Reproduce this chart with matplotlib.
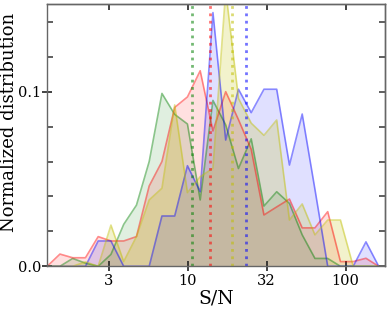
import numpy as np
import matplotlib
matplotlib.use('Agg')
import matplotlib.pyplot as plt
from matplotlib.ticker import FixedLocator, MultipleLocator, FixedFormatter

plt.rcParams['font.family'] = ['DejaVu Serif']

# bin centres of the S/N histogram (log-spaced)
log_sn = 0.111 + 0.0807 * np.arange(27)
sn = 10 ** log_sn

green = [0, 0, 0.0045, 0.0018, 0, 0.0068, 0.024, 0.035, 0.060, 0.099,
         0.087, 0.0815, 0.038, 0.095, 0.081, 0.056, 0.073, 0.0345, 0.0427, 0.036,
         0.018, 0.0045, 0.0045, 0, 0, 0, 0]
red = [0, 0.0070, 0.0049, 0.0049, 0.017, 0.0145, 0.0145, 0.017, 0.046, 0.060,
       0.091, 0.097, 0.112, 0.0775, 0.100, 0.084, 0.067, 0.0294, 0.034, 0.0385,
       0.022, 0.022, 0.0313, 0.0027, 0.0027, 0.0046, 0]
yellow = [0, 0, 0, 0.0025, 0, 0.0236, 0.0027, 0.017, 0.038, 0.0447,
          0.0924, 0.0422, 0.0513, 0.0561, 0.158, 0.0962, 0.082, 0.075, 0.0838, 0.0265,
          0.0357, 0.018, 0.0265, 0.0265, 0, 0, 0]
blue = [0, 0, 0, 0, 0.0145, 0.0145, 0, 0, 0, 0.0288,
        0.0288, 0.0576, 0.0427, 0.1453, 0.0723, 0.1014, 0.088, 0.1014, 0.1014, 0.058,
        0.0872, 0.044, 0, 0, 0, 0.014, 0]

# (values, colour, fill alpha)
series = [(green, 'g', 0.12), (red, 'r', 0.12), (blue, 'b', 0.12), (yellow, 'y', 0.2)]
medians = {'g': 10.7, 'r': 13.8, 'y': 19.1, 'b': 23.3}

xtick_pos = [10 ** 0.5, 10, 10 ** 1.5, 100]
xtick_labels = ['3', '10', '32', '100']

fig = plt.figure(figsize=(3.9, 3.12), dpi=100)
ax = fig.add_axes([0.121, 0.1465, 0.867, 0.8395])

for vals, c, a in series:
    ax.fill_between(sn, vals, color=c, alpha=a, lw=0)
for vals, c, a in series:
    ax.plot(sn, vals, color=c, alpha=0.45, lw=1.2)

for c in ['g', 'r', 'y', 'b']:
    ax.axvline(medians[c], color=c, ls=':', lw=2, alpha=0.55)

ax.set_xscale('log')
ax.set_xlim(10 ** 0.111, 10 ** 2.251)
ax.set_ylim(0, 0.15)

ax.xaxis.set_major_locator(FixedLocator(xtick_pos))
ax.xaxis.set_major_formatter(FixedFormatter(xtick_labels))
ax.xaxis.set_minor_locator(FixedLocator([]))
ax.yaxis.set_major_locator(MultipleLocator(0.1))
ax.yaxis.set_minor_locator(MultipleLocator(0.02))
ax.yaxis.set_major_formatter(plt.FuncFormatter(lambda v, p: '%.1f' % v))

ax.tick_params(which='major', direction='inout', length=7, width=1.2, labelsize=10.5, color='#222222')
ax.tick_params(which='minor', direction='in', length=4, width=1.2, color='#444444')
ax.tick_params(axis='y', which='major', pad=1)
ax.tick_params(axis='x', which='major', pad=2)

# ticks on top and right pointing inward
secx = ax.secondary_xaxis('top')
secx.set_xticks(xtick_pos)
secx.tick_params(direction='in', length=4, width=1.2, labeltop=False, color='#222222')
secx.xaxis.set_minor_locator(FixedLocator([]))
secy = ax.secondary_yaxis('right')
secy.yaxis.set_major_locator(MultipleLocator(0.02))
secy.tick_params(direction='in', length=4, width=1.2, labelright=False, color='#444444')

for sp in list(ax.spines.values()) + [secx.spines['top'], secy.spines['right']]:
    sp.set_color('#666666')
    sp.set_linewidth(1)

ax.set_xlabel('S/N', fontsize=13.5, labelpad=1)
ax.set_ylabel('Normalized distribution', fontsize=13, labelpad=1)
ax.yaxis.set_label_coords(-0.086, 0.55)

fig.savefig('out.png', dpi=100)
plt.close(fig)
